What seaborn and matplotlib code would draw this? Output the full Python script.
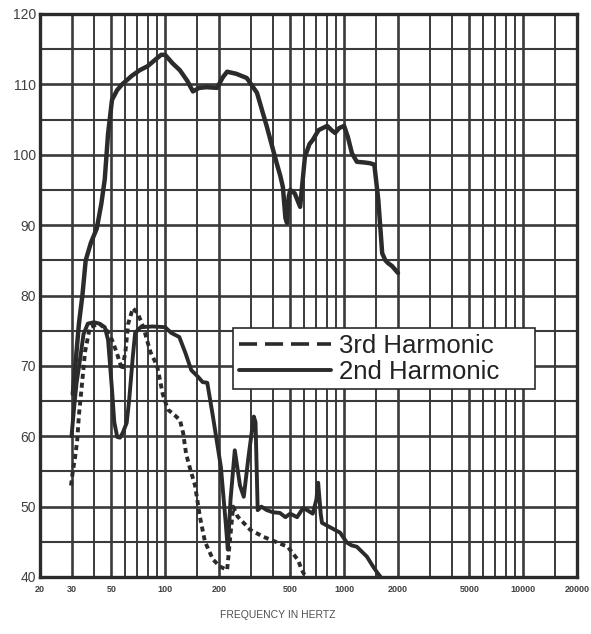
import numpy as np
import pandas as pd
import seaborn as sns
import matplotlib
matplotlib.use("Agg")
import matplotlib.pyplot as plt
from matplotlib.lines import Line2D

# ---------------------------------------------
# Data (frequency in Hz, level in dB)
# ---------------------------------------------
main_freq = [30.5, 31.5, 33, 34.5, 36, 38.5, 41.5, 44, 46, 48, 50.5, 54, 57.5, 65, 72, 80, 88, 95,
             100, 110, 121, 133, 143, 155, 170, 195, 210, 222, 250, 286, 326, 370, 420, 440, 455,
             470, 480, 490, 500, 530, 568, 590, 604, 640, 668, 720, 804, 850, 890, 940, 1000,
             1050, 1106, 1178, 1300, 1392, 1475, 1552, 1632, 1700, 1760, 1850, 2000]
main_db = [66, 70, 76, 80, 85, 87.5, 89.5, 93, 96.5, 103, 107.8, 109.2, 110, 111.2, 112, 112.6, 113.5, 114.2,
           114.2, 113, 112, 110.5, 109, 109.5, 109.6, 109.5, 111, 111.8, 111.5, 110.9, 108.8, 104, 98.8, 97, 95.4,
           91, 90.3, 94, 95, 94.5, 92.6, 97, 99.7, 101.5, 102.1, 103.5, 104.1, 103.5, 103.1, 103.8, 104.1,
           102.5, 100.2, 99, 98.9, 98.8, 98.6, 93.6, 86, 85, 84.6, 84.2, 83.2]

h2_freq = [30, 31, 32, 33.5, 35, 37, 40, 43, 46, 48, 50.5, 52, 54, 56, 58, 61, 63, 66, 68, 73, 85,
           100, 108, 120, 130, 140, 152, 162, 172, 185, 205, 218, 224, 232, 245, 262, 275, 292,
           313, 320, 329, 345, 370, 400, 438, 470, 500, 546, 590, 621, 668, 700, 716, 740, 752,
           830, 950, 1035, 1100, 1178, 1340, 1450, 1524, 1600]
h2_db = [60, 64, 67.5, 71, 74.5, 76, 76.2, 76, 75.5, 73.7, 66.6, 62, 59.9, 59.8, 60.5, 61.9, 65.2, 71.3, 74.7, 75.5, 75.6,
         75.5, 74.7, 74.1, 71.8, 69.4, 68.5, 67.7, 67.6, 62.8, 55.6, 47.7, 43.9, 51, 58, 53, 51.4, 57,
         62.8, 62, 49.5, 50, 49.5, 49.2, 49.1, 48.5, 49, 48.5, 49.8, 49.5, 49, 51, 53.4, 49, 47.7,
         47.1, 46.3, 44.9, 44.5, 44.3, 42.9, 41.5, 40.7, 40]

h3_freq = [29.8, 30.5, 31.4, 32.3, 33, 34.5, 35.7, 38, 43, 47.3, 50.5, 53.8, 57.5, 60, 62.2, 66, 70.2,
           75.6, 82.7, 90.2, 97, 103.5, 113, 121, 126, 131, 137.5, 147, 156.6, 167, 185, 202, 222,
           240, 254, 299, 355, 424, 484, 553, 580, 610]
h3_db = [53, 55, 57, 59.5, 63, 68, 72, 75.5, 76, 75, 73.7, 71.8, 69.4, 72, 76, 78.2, 77.5,
         75.5, 72, 70, 66, 63.8, 63, 62.3, 60.5, 57.5, 55.5, 53, 48.5, 45, 42.5, 41.5, 41,
         50, 48.6, 46.7, 45.7, 44.9, 44.3, 42.4, 41, 40]

x_major = [20, 30, 50, 100, 200, 500, 1000, 2000, 5000, 10000, 20000]
x_minor = [40, 60, 70, 80, 90, 150, 300, 400, 600, 700, 800, 900, 1500, 3000, 4000,
           6000, 7000, 8000, 9000, 15000]
y_major = list(range(40, 121, 10))
y_minor = list(range(45, 120, 10))

df_main = pd.DataFrame({"Frequency": main_freq, "Level": main_db})
df_h2 = pd.DataFrame({"Frequency": h2_freq, "Level": h2_db})
df_h3 = pd.DataFrame({"Frequency": h3_freq, "Level": h3_db})

# ---------------------------------------------
# Style
# ---------------------------------------------
sns.set_style("white")
plt.rcParams['font.family'] = ['Liberation Sans', 'DejaVu Sans']
ink = "#2b2b2b"
grid_ink = "#3a3a3a"

fig = plt.figure(figsize=(5.91, 6.34), dpi=100)
ax = fig.add_axes([40 / 591, 1 - 577 / 634, 537 / 591, 563 / 634])

sns.lineplot(data=df_main, x="Frequency", y="Level", ax=ax, color=ink, lw=3.2, zorder=5)
sns.lineplot(data=df_h2, x="Frequency", y="Level", ax=ax, color=ink, lw=2.8, zorder=5)
sns.lineplot(data=df_h3, x="Frequency", y="Level", ax=ax, color=ink, lw=2.8, zorder=5,
             dashes=False, linestyle=(0, (1.3, 1.0)))

ax.set_xscale("log")
ax.set_xlim(20, 20000)
ax.set_ylim(40, 120)
ax.set_xticks(x_major)
ax.set_xticklabels([str(v) for v in x_major])
ax.set_xticks(x_minor, minor=True)
ax.set_xticklabels([], minor=True)
ax.set_yticks(y_major)
ax.set_yticks(y_minor, minor=True)

ax.grid(which="major", axis="x", color=grid_ink, lw=1.9)
ax.grid(which="minor", axis="x", color=grid_ink, lw=1.4)
ax.grid(which="major", axis="y", color=grid_ink, lw=1.9)
ax.grid(which="minor", axis="y", color=grid_ink, lw=1.5)
ax.set_axisbelow(True)

for s in ax.spines.values():
    s.set_color(ink)
    s.set_linewidth(2.4)

ax.tick_params(axis="both", which="both", length=0)
ax.tick_params(axis="y", labelsize=10, labelcolor="#404040", pad=3)
ax.tick_params(axis="x", labelsize=6.5, labelcolor="#404040", pad=6)
for lab in ax.get_xticklabels():
    lab.set_fontweight("bold")
ax.set_xlabel("")
ax.set_ylabel("")

fig.text(278 / 591, 1 - 615 / 634, "FREQUENCY IN HERTZ", ha="center", va="center",
         fontsize=7.5, color="#505050")

# legend box spans roughly x 233-535 px, y 328-392 px
handles = [Line2D([], [], color=ink, lw=2.6, dashes=(5, 2.2)),
           Line2D([], [], color=ink, lw=2.8)]
leg = ax.legend(handles, ["3rd Harmonic", "2nd Harmonic"], loc="upper left",
                bbox_to_anchor=((233 - 40) / 537, (577 - 392) / 563, (535 - 233) / 537, (392 - 328) / 563),
                mode="expand", borderaxespad=0,
                fontsize=18.5, frameon=True, fancybox=False, framealpha=1,
                handlelength=3.6, handletextpad=0.3, borderpad=0.22, labelspacing=0.08,
                labelcolor="#222222")
leg.get_frame().set_edgecolor(ink)
leg.get_frame().set_linewidth(1.2)
leg.set_zorder(10)

plt.savefig("out.png", dpi=100)
plt.close()
